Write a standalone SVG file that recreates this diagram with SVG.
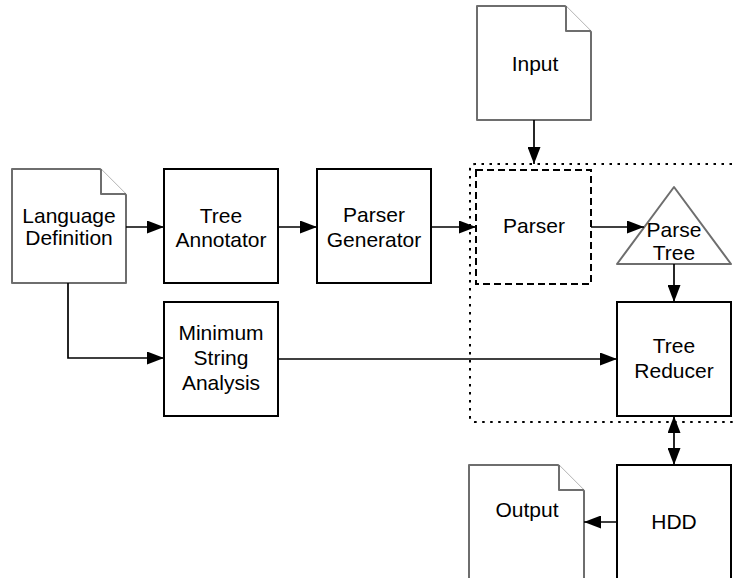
<svg xmlns="http://www.w3.org/2000/svg" width="733" height="578" viewBox="0 0 733 578">
  <style>
    .box { fill: #fff; stroke: #000; stroke-width: 2; }
    .doc { fill: #fff; stroke: #6e6e6e; stroke-width: 2; stroke-linejoin: round; }
    .dashed { fill: none; stroke: #000; stroke-width: 2; stroke-dasharray: 7 4; }
    .frame { fill: none; stroke: #000; stroke-width: 2; stroke-dasharray: 2.5 5.5; }
    .link { fill: none; stroke: #000; stroke-width: 1.7; }
    text { font-family: "Liberation Sans", Arial, Helvetica, sans-serif; font-size: 21px; fill: #000; text-anchor: middle; }
  </style>
  <defs>
    <marker id="arrow" markerUnits="userSpaceOnUse" markerWidth="17" markerHeight="13" refX="17" refY="6.5" orient="auto-start-reverse">
      <path d="M0,0 L17,6.5 L0,13 Z" fill="#000"/>
    </marker>
  </defs>

  <!-- execution frame around parser and reducer -->
  <path class="frame" d="M740,164 H475 Q470,164 470,169 V417 Q470,422 475,422 H740"/>

  <g id="language-definition">
    <path class="doc" d="M12,169 H100 L126,195 V283 H12 Z"/>
    <path class="doc" d="M101,169 V194 H126" fill="none"/>
    <text x="69" y="223">Language</text>
    <text x="69" y="245">Definition</text>
  </g>

  <g id="tree-annotator">
    <rect class="box" x="164" y="169" width="114" height="114"/>
    <text x="221" y="223">Tree</text>
    <text x="221" y="247">Annotator</text>
  </g>

  <g id="parser-generator">
    <rect class="box" x="317" y="169" width="114" height="114"/>
    <text x="374" y="222">Parser</text>
    <text x="374" y="247">Generator</text>
  </g>

  <g id="input">
    <path class="doc" d="M477,6 H565 L591,32 V120 H477 Z"/>
    <path class="doc" d="M566,6 V31 H591" fill="none"/>
    <text x="535" y="71">Input</text>
  </g>

  <g id="parser">
    <rect class="dashed" x="476" y="170" width="115" height="114"/>
    <text x="534" y="233">Parser</text>
  </g>

  <g id="parse-tree">
    <path class="doc" d="M674,187 L731,264 H617 Z"/>
    <text x="674" y="237">Parse</text>
    <text x="674" y="260">Tree</text>
  </g>

  <g id="minimum-string-analysis">
    <rect class="box" x="164" y="302" width="114" height="114"/>
    <text x="221" y="340">Minimum</text>
    <text x="221" y="365">String</text>
    <text x="221" y="390">Analysis</text>
  </g>

  <g id="tree-reducer">
    <rect class="box" x="617" y="302" width="114" height="114"/>
    <text x="674" y="353">Tree</text>
    <text x="674" y="378">Reducer</text>
  </g>

  <g id="hdd">
    <rect class="box" x="617" y="465" width="114" height="130"/>
    <text x="674" y="529">HDD</text>
  </g>

  <g id="output">
    <path class="doc" d="M469,465 H558 L584,491 V600 H469 Z"/>
    <path class="doc" d="M559,465 V490 H584" fill="none"/>
    <text x="527" y="517">Output</text>
  </g>

  <g id="connectors">
    <path class="link" d="M126,227 H164" marker-end="url(#arrow)"/>
    <path class="link" d="M278,227 H317" marker-end="url(#arrow)"/>
    <path class="link" d="M431,227 H476" marker-end="url(#arrow)"/>
    <path class="link" d="M534,120 V164" marker-end="url(#arrow)"/>
    <path class="link" d="M591,227 H644" marker-end="url(#arrow)"/>
    <path class="link" d="M674,264 V302" marker-end="url(#arrow)"/>
    <path class="link" d="M68,283 V358 H164" marker-end="url(#arrow)"/>
    <path class="link" d="M278,359 H617" marker-end="url(#arrow)"/>
    <path class="link" d="M674,416 V465" marker-start="url(#arrow)" marker-end="url(#arrow)"/>
    <path class="link" d="M617,522 H584" marker-end="url(#arrow)"/>
  </g>
</svg>
